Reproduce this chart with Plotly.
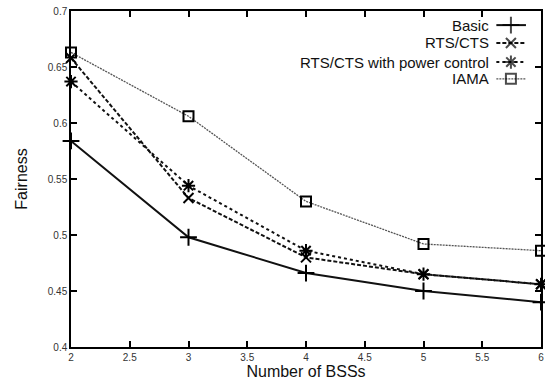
import plotly.graph_objects as go

bss = [2, 3, 4, 5, 6]
basic = [0.584, 0.498, 0.466, 0.450, 0.440]
rts_cts = [0.658, 0.533, 0.480, 0.465, 0.456]
rts_power = [0.637, 0.544, 0.486, 0.465, 0.456]
iama = [0.663, 0.606, 0.530, 0.492, 0.486]

names = ["Basic", "RTS/CTS", "RTS/CTS with power control", "IAMA"]
series = [basic, rts_cts, rts_power, iama]
styles = [
    dict(color="#111", width=2, dash="solid", symbol="cross-thin", msize=12),
    dict(color="#111", width=2, dash="4px,2px", symbol="x-thin", msize=10),
    dict(color="#111", width=2, dash="dot", symbol="asterisk", msize=11),
    dict(color="#555", width=1.3, dash="2px,1px", symbol="square-open", msize=10),
]

fig = go.Figure()
for name, ys, st in zip(names, series, styles):
    fig.add_trace(go.Scatter(
        x=bss, y=ys, mode="lines+markers", name=name, showlegend=False,
        line=dict(color=st["color"], width=st["width"], dash=st["dash"]),
        marker=dict(symbol=st["symbol"], size=st["msize"], color="#000",
                    line=dict(color="#000", width=2)),
        cliponaxis=False,
    ))

# manual legend (text right, sample on right)
leg_y = [0.958, 0.905, 0.848, 0.798]
for name, st, ly in zip(names, styles, leg_y):
    fig.add_trace(go.Scatter(
        x=[0.905, 0.936, 0.968], y=[ly, ly, ly], xaxis="x2", yaxis="y2",
        mode="lines+markers", showlegend=False, hoverinfo="skip",
        line=dict(color=st["color"], width=st["width"], dash=st["dash"]),
        marker=dict(symbol=st["symbol"], size=[0, st["msize"], 0], color="#000",
                    line=dict(color="#000", width=2)),
    ))
    fig.add_annotation(x=0.894, y=ly, xref="x2", yref="y2", text=name,
                       showarrow=False, xanchor="right", yanchor="middle",
                       font=dict(size=15, color="#111"))

axis_common = dict(showline=True, linecolor="#000", linewidth=1.5, mirror="ticks",
                   ticks="inside", ticklen=6, tickcolor="#000", tickwidth=1.5,
                   showgrid=False, zeroline=False,
                   tickfont=dict(size=10, color="#333"))

fig.update_layout(
    width=545, height=385,
    margin=dict(l=71, r=2, t=11, b=38),
    paper_bgcolor="white", plot_bgcolor="white",
    font=dict(family="Liberation Sans, Arial, sans-serif", color="#111"),
    xaxis=dict(range=[2, 6], tickvals=[2, 2.5, 3, 3.5, 4, 4.5, 5, 5.5, 6],
               ticktext=["2", "2.5", "3", "3.5", "4", "4.5", "5", "5.5", "6"],
               title=dict(text="Number of BSSs", font=dict(size=16), standoff=2),
               **axis_common),
    yaxis=dict(range=[0.4, 0.7], tickvals=[0.4, 0.45, 0.5, 0.55, 0.6, 0.65, 0.7],
               ticktext=["0.4", "0.45", "0.5", "0.55", "0.6", "0.65", "0.7"],
               title=dict(text="Fairness", font=dict(size=16), standoff=16),
               **axis_common),
    xaxis2=dict(range=[0, 1], overlaying="x", visible=False, fixedrange=True),
    yaxis2=dict(range=[0, 1], overlaying="y", visible=False, fixedrange=True),
)

fig.write_html("out.html")
